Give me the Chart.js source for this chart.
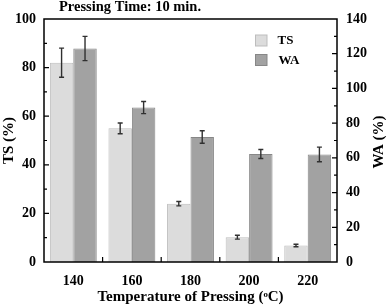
<!DOCTYPE html>
<html>
<head>
<meta charset="utf-8">
<script src="https://cdn.jsdelivr.net/npm/chart.js@4.4.0/dist/chart.umd.min.js"></script>
<style>
  html, body { margin: 0; padding: 0; background: #fff; }
  #wrap { width: 387px; height: 306px; }
</style>
</head>
<body>
<div id="wrap"><canvas id="sample-chart" width="387" height="306"></canvas></div>
<script>
// values
var categories = ['140', '160', '180', '200', '220'];
var tsValues = [82, 55, 24, 10.2, 6.8];
var tsErrors = [6, 2.2, 0.9, 0.8, 0.5];
var waValues = [123, 89, 72, 62.2, 62];
var waErrors = [7, 3.5, 3.6, 2.6, 4.2];

var serif = '"Liberation Serif", "Times New Roman", serif';

// frame, inward ticks, error bars, legend and the extra texts
var extras = {
    id: 'extras',
    afterDatasetsDraw: function(chart) {
        var ctx = chart.ctx;
        var area = chart.chartArea;
        var yL = chart.scales.y, yR = chart.scales.y1, x = chart.scales.x;
        ctx.save();

        // error bars
        ctx.strokeStyle = '#303030';
        ctx.lineWidth = 1.4;
        [[0, yL, tsValues, tsErrors], [1, yR, waValues, waErrors]].forEach(function(s) {
            var meta = chart.getDatasetMeta(s[0]);
            meta.data.forEach(function(bar, i) {
                var top = s[1].getPixelForValue(s[2][i] + s[3][i]);
                var bot = s[1].getPixelForValue(s[2][i] - s[3][i]);
                ctx.beginPath();
                ctx.moveTo(bar.x, top); ctx.lineTo(bar.x, bot);
                ctx.moveTo(bar.x - 2.5, top); ctx.lineTo(bar.x + 2.5, top);
                ctx.moveTo(bar.x - 2.5, bot); ctx.lineTo(bar.x + 2.5, bot);
                ctx.stroke();
            });
        });

        // frame
        ctx.strokeStyle = '#000';
        ctx.lineWidth = 1.5;
        ctx.strokeRect(area.left, area.top, area.right - area.left, area.bottom - area.top);

        // ticks
        ctx.lineWidth = 1.2;
        ctx.beginPath();
        for (var v = 10; v < 100; v += 10) {
            var py = yL.getPixelForValue(v);
            var len = v % 20 === 0 ? 5 : 3;
            ctx.moveTo(area.left, py); ctx.lineTo(area.left + len, py);
        }
        for (var w = 10; w < 140; w += 10) {
            var qy = yR.getPixelForValue(w);
            var len2 = w % 20 === 0 ? 5 : 3;
            ctx.moveTo(area.right, qy); ctx.lineTo(area.right - len2, qy);
        }
        for (var i = 1; i < categories.length; i++) {
            var px = (x.getPixelForValue(i - 1) + x.getPixelForValue(i)) / 2;
            ctx.moveTo(px, area.bottom); ctx.lineTo(px, area.bottom - 5);
        }
        ctx.stroke();

        // legend
        var ds = chart.data.datasets;
        ds.forEach(function(d, k) {
            var ly = 35 + k * 19.5;
            ctx.fillStyle = d.backgroundColor;
            ctx.fillRect(255.5, ly, 11.5, 11);
            ctx.strokeStyle = d.borderColor;
            ctx.lineWidth = 1;
            ctx.strokeRect(255.5, ly, 11.5, 11);
            ctx.fillStyle = '#000';
            ctx.font = 'bold 13px ' + serif;
            ctx.textBaseline = 'middle';
            ctx.textAlign = 'left';
            ctx.fillText(d.label, 277.5 + k, ly + 6);
        });

        // title at the top
        ctx.fillStyle = '#000';
        ctx.font = 'bold 14.5px ' + serif;
        ctx.textBaseline = 'alphabetic';
        ctx.textAlign = 'left';
        ctx.fillText('Pressing Time: 10 min.', 59, 11);

        // right axis title, reading upward
        ctx.save();
        ctx.translate(379, 142);
        ctx.rotate(-Math.PI / 2);
        ctx.font = 'bold 15px ' + serif;
        ctx.textAlign = 'center';
        ctx.textBaseline = 'middle';
        ctx.fillText('WA (%)', 0, 0);
        ctx.restore();

        ctx.restore();
    }
};

function getChart() {
    var tickFont = { family: serif, size: 14, weight: 'bold' };
    var titleFont = { family: serif, size: 15, weight: 'bold' };
    var data = {
        labels: categories,
        datasets: [{
            label: 'TS',
            data: tsValues,
            backgroundColor: '#dcdcdc',
            borderColor: '#bdbdbd',
            borderWidth: 1,
            yAxisID: 'y'
        }, {
            label: 'WA',
            data: waValues,
            backgroundColor: '#a2a2a2',
            borderColor: '#878787',
            borderWidth: 1,
            yAxisID: 'y1'
        }]
    };

    var config = {
        type: 'bar',
        data: data,
        options: {
            responsive: false,
            animation: false,
            categoryPercentage: 0.8,
            barPercentage: 1.0,
            layout: { padding: { top: 19, left: 0, right: 0, bottom: 0 } },
            plugins: { legend: { display: false }, tooltip: { enabled: false } },
            scales: {
                x: {
                    offset: true,
                    grid: { display: false, drawTicks: false },
                    border: { display: false },
                    ticks: { font: tickFont, color: '#000', padding: 11 },
                    title: {
                        display: true,
                        text: 'Temperature of Pressing (\u1d52C)',
                        font: titleFont, color: '#000',
                        padding: { top: 0, bottom: 0 }
                    },
                    afterFit: function(s) { s.height = 44; }
                },
                y: {
                    position: 'left',
                    min: 0, max: 100,
                    grid: { display: false, drawTicks: false },
                    border: { display: false },
                    ticks: { stepSize: 20, font: tickFont, color: '#000', padding: 8 },
                    title: {
                        display: true, text: 'TS (%)',
                        font: titleFont, color: '#000', padding: 0
                    },
                    afterFit: function(s) { s.width = 44; }
                },
                y1: {
                    position: 'right',
                    min: 0, max: 140,
                    grid: { display: false, drawTicks: false },
                    border: { display: false },
                    ticks: { stepSize: 20, font: tickFont, color: '#000', padding: 9 },
                    afterFit: function(s) { s.width = 50; }
                }
            }
        },
        plugins: [extras]
    };

    var myChart = new Chart(document.getElementById('sample-chart'), config);
}

getChart();
</script>
</body>
</html>
